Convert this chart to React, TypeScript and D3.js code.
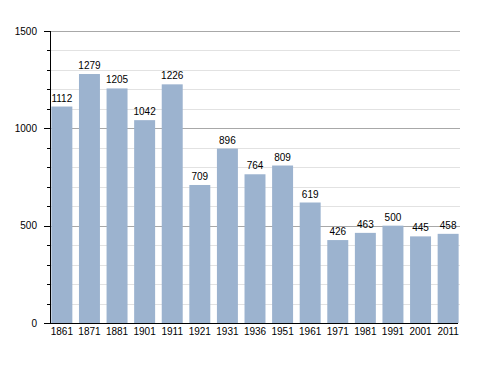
import React from 'react'
import { scaleBand, scaleLinear, range } from 'd3'

const years = ['1861', '1871', '1881', '1901', '1911', '1921', '1931', '1936', '1951', '1961', '1971', '1981', '1991', '2001', '2011']
const population = [1112, 1279, 1205, 1042, 1226, 709, 896, 764, 809, 619, 426, 463, 500, 445, 458]
const majorTicks = [0, 500, 1000, 1500]

const width = 488, height = 373
const left = 50, right = 460, top = 31, bottom = 323
const font = '"Liberation Sans", Arial, sans-serif'

export default function App() {
  const x = scaleBand().domain(years).range([left, right]).paddingInner(0.24).paddingOuter(0.05)
  const y = scaleLinear().domain([0, 1500]).range([bottom, top])
  const minorTicks = range(0, 1501, 100).filter(v => v % 500 !== 0)

  return (
    <svg width={width} height={height} style={{ position: 'absolute', left: 0, top: 0 }} fontFamily={font}>
      <rect width={width} height={height} fill="#fff" />
      {/* grid */}
      {minorTicks.map(v => (
        <line key={'g' + v} x1={left} x2={right} y1={Math.round(y(v)) + 0.5} y2={Math.round(y(v)) + 0.5} stroke="#e2e2e2" />
      ))}
      {majorTicks.filter(v => v > 0).map(v => (
        <line key={'G' + v} x1={left} x2={right} y1={Math.round(y(v)) + 0.5} y2={Math.round(y(v)) + 0.5} stroke="#a8a8a8" />
      ))}
      {/* bars */}
      {years.map((yr, i) => (
        <rect key={yr} x={x(yr)} y={y(population[i])} width={x.bandwidth()} height={bottom - y(population[i])} fill="#9cb3cf" />
      ))}
      {/* value labels */}
      {years.map((yr, i) => (
        <text key={'v' + yr} x={(x(yr) ?? 0) + x.bandwidth() / 2} y={y(population[i]) - 5} textAnchor="middle" fontSize={10} fill="#000">
          {population[i]}
        </text>
      ))}
      {/* axes */}
      <line x1={left + 0.5} x2={left + 0.5} y1={top} y2={bottom} stroke="#000" />
      <line x1={left - 6} x2={right - 2} y1={bottom + 0.5} y2={bottom + 0.5} stroke="#000" />
      {minorTicks.map(v => (
        <line key={'t' + v} x1={left - 3} x2={left} y1={Math.round(y(v)) + 0.5} y2={Math.round(y(v)) + 0.5} stroke="#000" />
      ))}
      {majorTicks.map(v => (
        <g key={'T' + v}>
          <line x1={left - 6} x2={left} y1={Math.round(y(v)) + 0.5} y2={Math.round(y(v)) + 0.5} stroke="#000" />
          <text x={37} y={y(v)} dy="0.35em" textAnchor="end" fontSize={10} fill="#000">{v}</text>
        </g>
      ))}
      {years.map(yr => (
        <text key={'x' + yr} x={(x(yr) ?? 0) + x.bandwidth() / 2} y={bottom + 12} textAnchor="middle" fontSize={10} fill="#000">
          {yr}
        </text>
      ))}
    </svg>
  )
}
